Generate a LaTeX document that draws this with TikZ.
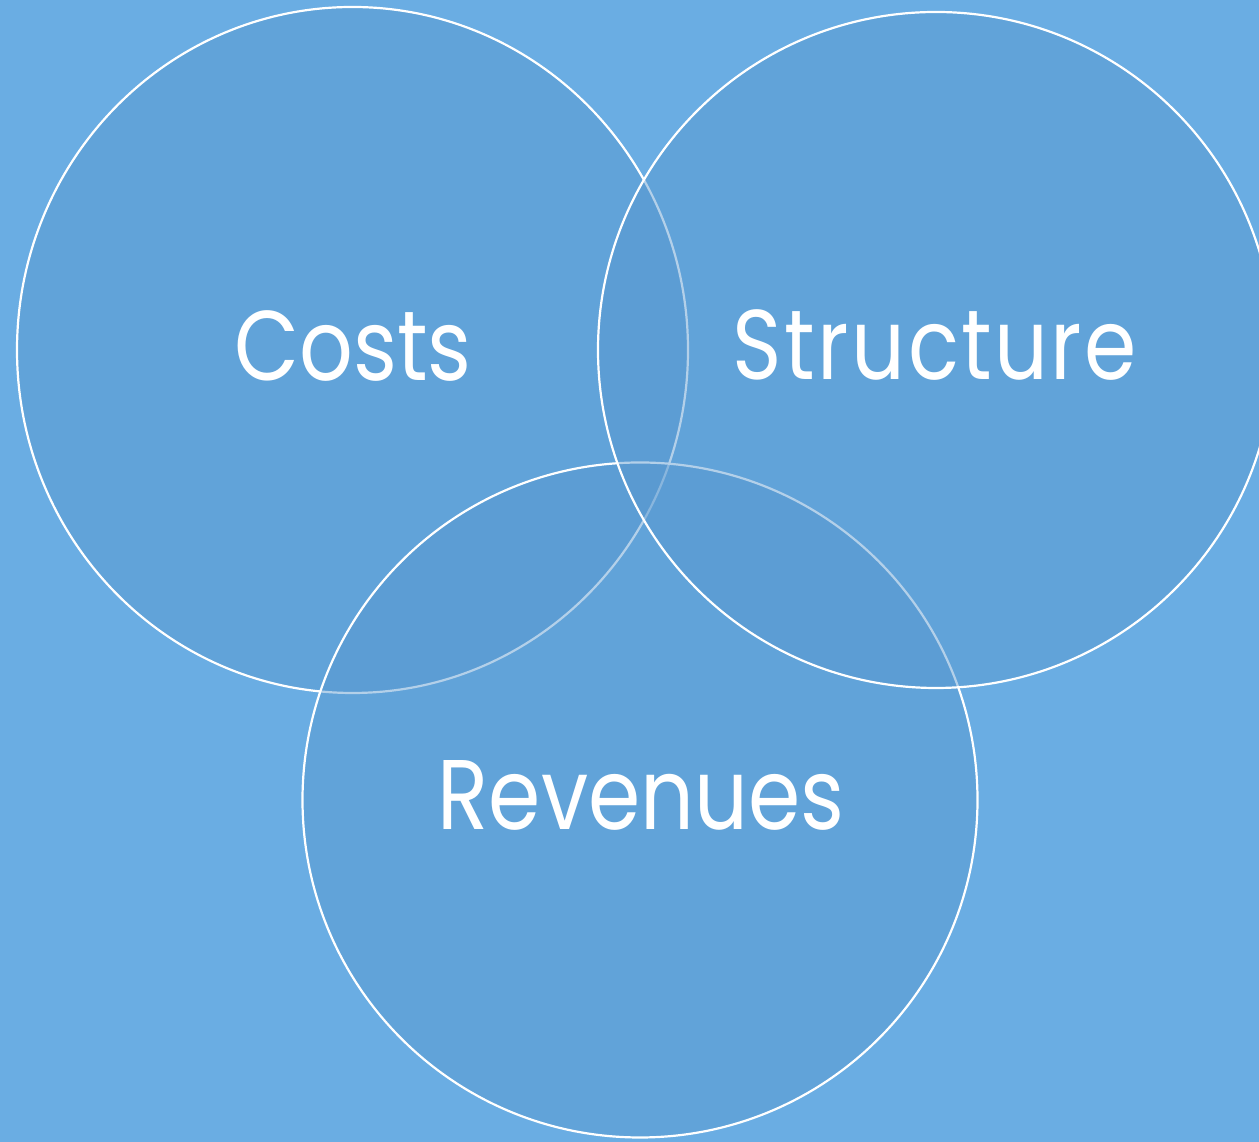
\documentclass[tikz,border=0pt]{standalone}
\usepackage{fontspec}
\setmainfont[FakeStretch=0.85]{Poppins}
\newfontfamily\widerfont[FakeStretch=0.85,LetterSpace=2.5]{Poppins}
\definecolor{bgblue}{RGB}{106,173,227}
\definecolor{ringfill}{RGB}{88,151,207}
\begin{document}
\begin{tikzpicture}[x=1pt,y=1pt,
  ring/.style={draw=white,line width=2.2pt,fill=ringfill,fill opacity=0.45,draw opacity=1},
  label/.style={text=white,anchor=base,font=\fontsize{99}{120}\selectfont}]
  % backdrop
  \fill[bgblue] (0,0) rectangle (1259,1142);
  \useasboundingbox (0,0) rectangle (1259,1142);
  % the three sets, back to front
  \draw[ring] (352.5,792) ellipse[x radius=335.5,y radius=343];
  \draw[ring] (640,342) circle[radius=337.5];
  \draw[ring] (936,792) circle[radius=338];
  % set names
  \node[label] (costs) at (353,761) {Costs};
  \node[label,font=\widerfont\fontsize{99}{120}\selectfont] (structure) at (935,762) {Structure};
  \node[label] (revenues) at (641,312) {Revenues};
\end{tikzpicture}
\end{document}
